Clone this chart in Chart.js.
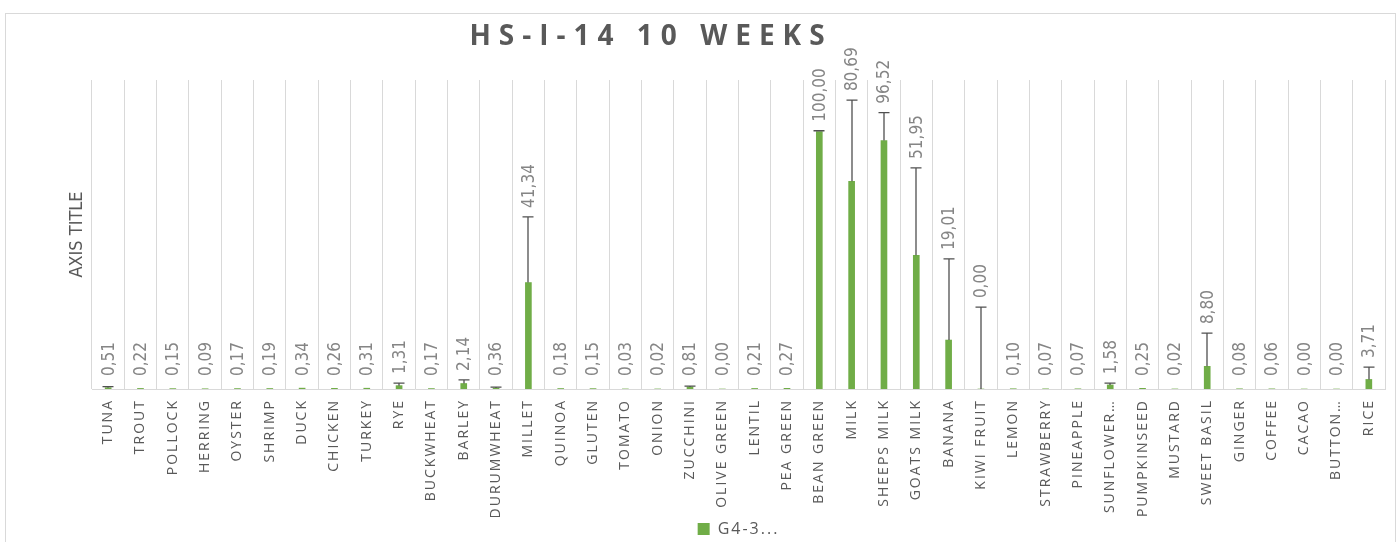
<!DOCTYPE html>
<html><head><meta charset="utf-8">
<script src="https://cdn.jsdelivr.net/npm/chart.js@4.4.1/dist/chart.umd.min.js"></script>
<style>html,body{margin:0;padding:0;background:#fff;}#wrap{width:1400px;height:542px;position:relative;}</style>
</head><body><div id="wrap"><canvas id="c" width="1400" height="542"></canvas></div>
<script>
const chartTitle = 'HS-I-14 10 WEEKS';
const yAxisTitle = 'AXIS TITLE';
const seriesName = 'G4-3...';
const categories = ['TUNA','TROUT','POLLOCK','HERRING','OYSTER','SHRIMP','DUCK','CHICKEN','TURKEY','RYE','BUCKWHEAT','BARLEY','DURUMWHEAT','MILLET','QUINOA','GLUTEN','TOMATO','ONION','ZUCCHINI','OLIVE GREEN','LENTIL','PEA GREEN','BEAN GREEN','MILK','SHEEPS MILK','GOATS MILK','BANANA','KIWI FRUIT','LEMON','STRAWBERRY','PINEAPPLE','SUNFLOWER…','PUMPKINSEED','MUSTARD','SWEET BASIL','GINGER','COFFEE','CACAO','BUTTON…','RICE'];
const values = [0.51,0.22,0.15,0.09,0.17,0.19,0.34,0.26,0.31,1.31,0.17,2.14,0.36,41.34,0.18,0.15,0.03,0.02,0.81,0.00,0.21,0.27,100.00,80.69,96.52,51.95,19.01,0.00,0.10,0.07,0.07,1.58,0.25,0.02,8.80,0.08,0.06,0.00,0.00,3.71];
const errorsPlus = [0.4,null,null,null,null,null,null,null,null,1.0,null,1.4,0.4,25.5,null,null,null,null,0.3,null,null,null,0.3,31.5,10.8,33.9,31.5,31.8,null,null,null,0.7,null,null,12.9,null,null,null,null,4.8];
const yMax = 120;

const green = '#70AD47';
const narrow = "'Liberation Sans Narrow','DejaVu Sans Condensed','Roboto Condensed',sans-serif";
const tickSpacing = '2px';

function fmt(v){ return v.toFixed(2).replace('.', ','); }

const deco = {
  id: 'deco',
  beforeLayout(chart){ chart.ctx.letterSpacing = tickSpacing; },
  beforeDraw(chart){
    const ctx = chart.ctx;
    ctx.save();
    ctx.letterSpacing = '0px';
    ctx.strokeStyle = '#d9d9d9'; ctx.lineWidth = 1;
    ctx.strokeRect(5.5, 13.5, 1390, 545);
    ctx.restore();
    ctx.letterSpacing = tickSpacing;
  },
  afterDatasetsDraw(chart){
    const ctx = chart.ctx;
    const meta = chart.getDatasetMeta(0);
    const ys = chart.scales.y;
    const base = ys.getPixelForValue(0);
    ctx.save();
    ctx.letterSpacing = '0px';
    ctx.strokeStyle = '#505050'; ctx.lineWidth = 1.3;
    meta.data.forEach((bar,i)=>{
      const e = errorsPlus[i];
      if (e === null) return;
      const x = Math.round(bar.x);
      const y0 = ys.getPixelForValue(values[i]);
      const y1 = Math.min(ys.getPixelForValue(values[i]+e), base-1.5);
      ctx.beginPath();
      ctx.moveTo(x, y0); ctx.lineTo(x, y1);
      ctx.moveTo(x-5.5, y1); ctx.lineTo(x+5.5, y1);
      ctx.stroke();
    });
    ctx.font = '17px ' + narrow;
    ctx.fillStyle = '#858585';
    ctx.textAlign = 'left'; ctx.textBaseline = 'middle';
    meta.data.forEach((bar,i)=>{
      const top = ys.getPixelForValue(values[i] + (errorsPlus[i]||0));
      const y = Math.min(top - 9, base - 13);
      ctx.save();
      ctx.translate(bar.x + 1, y);
      ctx.rotate(-Math.PI/2);
      ctx.fillText(fmt(values[i]), 0, 0);
      ctx.restore();
    });
    ctx.restore();
  },
  afterDraw(chart){
    const ctx = chart.ctx;
    const ca = chart.chartArea;
    ctx.save();
    ctx.letterSpacing = '8px';
    ctx.font = 'bold 28px "Open Sans"';
    ctx.fillStyle = '#595959';
    ctx.textAlign = 'center'; ctx.textBaseline = 'alphabetic';
    ctx.fillText(chartTitle, 651, 45);
    ctx.letterSpacing = '0px';
    ctx.font = '18px ' + narrow;
    ctx.textBaseline = 'middle';
    ctx.translate(77, (ca.top + ca.bottom) / 2);
    ctx.rotate(-Math.PI/2);
    ctx.fillText(yAxisTitle, 0, 0);
    ctx.restore();
    ctx.letterSpacing = tickSpacing;
  }
};

new Chart(document.getElementById('c'), {
  type: 'bar',
  data: { labels: categories, datasets: [{ label: seriesName, data: values, backgroundColor: green, borderWidth: 0, barThickness: 6 }] },
  options: {
    responsive: false, animation: false, devicePixelRatio: 1,
    layout: { padding: { top: 80, left: 92, right: 15, bottom: -5 } },
    plugins: {
      title: { display: false },
      tooltip: { enabled: false },
      legend: { position: 'bottom', fullSize: false,
        labels: { boxWidth: 12, boxHeight: 12, padding: 4, color: '#595959', font: { family: "'Open Sans'", size: 16 } } }
    },
    scales: {
      x: {
        grid: { color: '#d9d9d9', drawTicks: false, offset: true },
        border: { color: '#d9d9d9' },
        ticks: { autoSkip: false, maxRotation: 90, minRotation: 90, padding: 10, color: '#595959', font: { family: "'Open Sans'", size: 14 } },
        afterFit(s){ s.height = 128; }
      },
      y: { display: false, min: 0, max: yMax }
    }
  },
  plugins: [deco]
});
</script></body></html>
